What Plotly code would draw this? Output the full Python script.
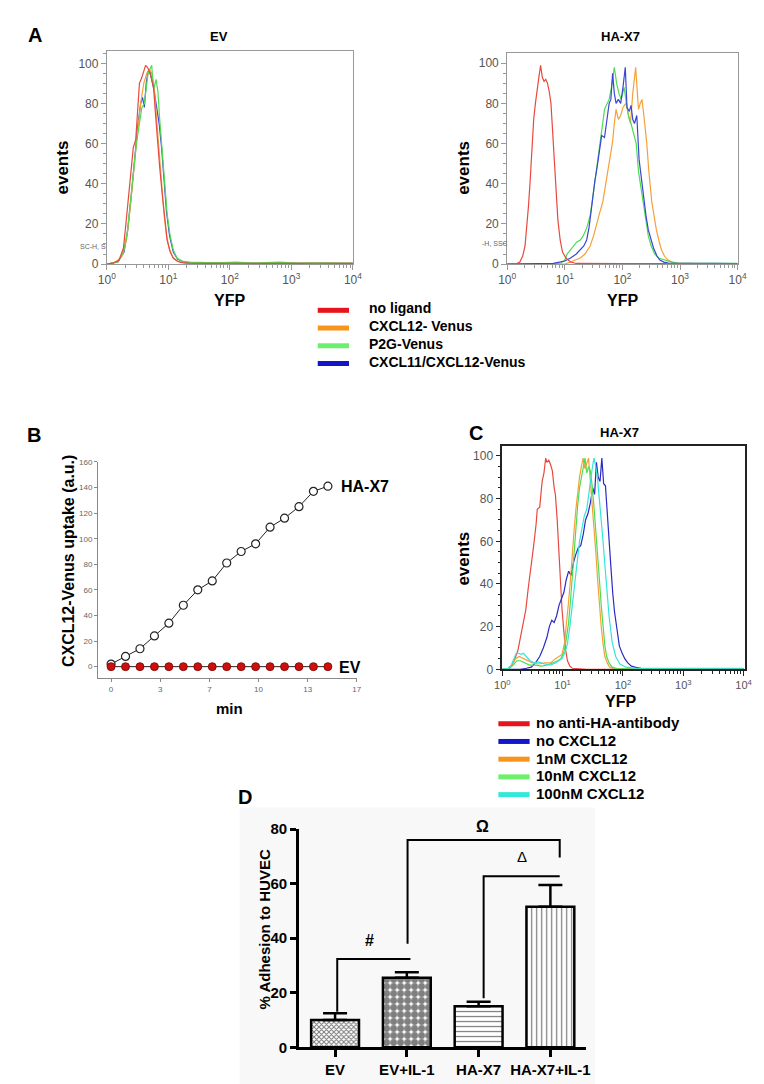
import math
import plotly.graph_objects as go

W, H = 764, 1084
FONT = "Liberation Sans, Arial, sans-serif"

# ---------------- DATA ----------------
# Panel A (EV) - x in log10(YFP), y = events (% of max)
AL_red_x = [0.00, 0.10, 0.20, 0.27, 0.31, 0.36, 0.39, 0.43, 0.47, 0.50, 0.53, 0.57, 0.60, 0.63, 0.66, 0.69, 0.72, 0.76, 0.79, 0.82, 0.86, 0.90, 0.94, 0.98, 1.03, 1.08, 1.14, 1.20, 1.30, 1.45, 1.6, 1.8, 2.0, 2.3, 2.6, 3.0, 3.4, 4.0]
AL_red_y = [0, 0.5, 2, 8, 20, 35, 45, 58, 62, 78, 90, 93, 96, 99, 98, 96, 93, 88, 75, 62, 48, 35, 22, 12, 6, 3, 1.5, 0.8, 0.4, 0.3, 0.5, 0.3, 0.4, 0.3, 0.5, 0.3, 0.4, 0.3]
AL_orange_x = [0.0, 0.15, 0.25, 0.32, 0.38, 0.44, 0.50, 0.55, 0.60, 0.65, 0.69, 0.73, 0.77, 0.81, 0.85, 0.89, 0.93, 0.97, 1.02, 1.08, 1.15, 1.25, 1.4, 1.6, 1.9, 2.2, 2.5, 2.9, 3.3, 3.7, 4.0]
AL_orange_y = [0, 1, 4, 12, 28, 48, 66, 80, 90, 95, 97, 95, 88, 72, 55, 40, 25, 14, 7, 3, 1.5, 0.6, 0.4, 0.3, 0.5, 0.3, 0.4, 0.3, 0.4, 0.3, 0.4]
AL_green_x = [0.0, 0.18, 0.27, 0.33, 0.38, 0.43, 0.48, 0.53, 0.57, 0.61, 0.64, 0.67, 0.70, 0.73, 0.75, 0.77, 0.80, 0.83, 0.86, 0.90, 0.94, 0.98, 1.03, 1.08, 1.14, 1.22, 1.35, 1.5, 1.8, 2.1, 2.4, 2.8, 3.1, 3.5, 4.0]
AL_green_y = [0, 1, 6, 15, 30, 46, 60, 70, 78, 80, 88, 95, 97, 99, 90, 88, 92, 86, 72, 55, 40, 25, 14, 7, 3, 1.5, 1, 0.8, 0.6, 1, 0.5, 1, 0.5, 0.6, 0.4]
AL_blue_x = [0.0, 0.18, 0.28, 0.34, 0.40, 0.45, 0.50, 0.55, 0.58, 0.61, 0.64, 0.67, 0.70, 0.73, 0.77, 0.81, 0.85, 0.89, 0.93, 0.97, 1.02, 1.08, 1.15, 1.25, 1.4, 1.6, 2.0, 2.5, 3.0, 3.5, 4.0]
AL_blue_y = [0, 1, 6, 17, 35, 52, 68, 80, 83, 78, 90, 96, 96, 92, 86, 78, 70, 58, 42, 26, 14, 6, 2.5, 1, 0.5, 0.3, 0.3, 0.3, 0.3, 0.3, 0.3]

# Panel A (HA-X7)
AR_red_x = [0.0, 0.15, 0.22, 0.27, 0.31, 0.34, 0.37, 0.40, 0.43, 0.46, 0.49, 0.52, 0.55, 0.58, 0.61, 0.64, 0.67, 0.70, 0.73, 0.76, 0.79, 0.82, 0.85, 0.88, 0.92, 0.96, 1.02, 1.10, 1.2, 1.4, 2.0, 2.6, 3.2, 4.0]
AR_red_y = [0, 0, 1, 4, 9, 18, 29, 42, 58, 72, 80, 88, 93, 99, 93, 91, 92, 90, 86, 80, 66, 50, 35, 22, 12, 6, 3, 1, 0.3, 0.2, 0.2, 0.2, 0.2, 0.2]
AR_blue_x = [0.0, 0.5, 0.8, 1.0, 1.1, 1.2, 1.27, 1.33, 1.38, 1.42, 1.46, 1.49, 1.52, 1.56, 1.60, 1.64, 1.69, 1.73, 1.77, 1.80, 1.83, 1.86, 1.89, 1.93, 1.97, 2.01, 2.05, 2.08, 2.12, 2.15, 2.18, 2.21, 2.25, 2.29, 2.33, 2.37, 2.41, 2.45, 2.50, 2.54, 2.60, 2.65, 2.72, 2.80, 2.9, 3.0, 3.3, 3.6, 4.0]
AR_blue_y = [0, 0, 0.3, 1.5, 3, 5, 7, 9, 12, 18, 27, 35, 41, 48, 55, 64, 63, 72, 80, 82, 95, 85, 80, 82, 80, 88, 98, 78, 76, 79, 72, 70, 74, 52, 42, 31, 24, 17, 12, 8, 4, 2, 1, 0.5, 0.3, 0.3, 0.6, 0.3, 0.2]
AR_green_x = [0.0, 0.8, 0.93, 1.0, 1.04, 1.1, 1.16, 1.21, 1.27, 1.32, 1.38, 1.44, 1.48, 1.52, 1.56, 1.60, 1.64, 1.69, 1.72, 1.77, 1.81, 1.86, 1.90, 1.94, 1.98, 2.03, 2.07, 2.11, 2.15, 2.20, 2.24, 2.28, 2.32, 2.37, 2.41, 2.45, 2.50, 2.56, 2.63, 2.73, 2.85, 2.96, 3.1, 3.4, 3.7, 4.0]
AR_green_y = [0, 0, 0.5, 2, 5, 7, 9, 11, 12, 14, 18, 24, 32, 41, 48, 57, 67, 77, 79, 82, 88, 98, 90, 85, 82, 88, 80, 73, 70, 65, 60, 46, 38, 28, 20, 14, 9, 5, 3, 2, 1, 0.3, 0.3, 0.3, 0.3, 0.3]
AR_orange_x = [0.0, 1.0, 1.1, 1.2, 1.27, 1.35, 1.44, 1.50, 1.55, 1.60, 1.66, 1.70, 1.75, 1.79, 1.83, 1.86, 1.89, 1.93, 1.97, 2.01, 2.06, 2.10, 2.14, 2.18, 2.23, 2.26, 2.28, 2.31, 2.34, 2.38, 2.42, 2.46, 2.51, 2.55, 2.59, 2.64, 2.68, 2.73, 2.79, 2.87, 2.96, 3.2, 3.6, 4.0]
AR_orange_y = [0, 0, 1, 2, 3, 5, 9, 14, 20, 25, 31, 38, 46, 53, 61, 70, 77, 72, 74, 78, 80, 75, 70, 85, 98, 85, 77, 80, 82, 72, 61, 46, 31, 24, 17, 11, 7, 4, 2, 1, 0.5, 0.3, 0.3, 0.2]

# Panel B - uptake over time
B_minutes = [0, 1, 2, 3, 4, 5, 6, 7, 8, 9, 10, 11, 12, 13, 14, 15]
B_ha_x7 = [2, 8, 14, 24, 34, 48, 60, 67, 81, 90, 96, 109, 116, 125, 137, 141]
B_ev = [0, 0, 0, 0, 0, 0, 0, 0, 0, 0, 0, 0, 0, 0, 0, 0]
B_xtick_vals = [0, 3.4, 6.8, 10.2, 13.6, 17]
B_xtick_text = ["0", "3", "7", "10", "13", "17"]

# Panel C (HA-X7, CXCL12 dose)
C_red_x = [0.0, 0.09, 0.16, 0.21, 0.26, 0.31, 0.35, 0.39, 0.43, 0.48, 0.52, 0.56, 0.58, 0.62, 0.66, 0.69, 0.72, 0.74, 0.77, 0.80, 0.83, 0.86, 0.88, 0.91, 0.94, 0.96, 0.99, 1.02, 1.05, 1.08, 1.12, 1.16, 1.25, 1.4, 4.0]
C_red_y = [0, 0, 2, 5, 9, 16, 22, 28, 38, 48, 58, 68, 75, 76, 88, 92, 99, 97, 98, 96, 93, 85, 82, 70, 55, 40, 28, 18, 9, 4, 1.5, 0.5, 0.2, 0, 0]
C_blue_x = [0.0, 0.3, 0.4, 0.48, 0.55, 0.62, 0.68, 0.74, 0.78, 0.82, 0.86, 0.90, 0.94, 0.98, 1.02, 1.06, 1.10, 1.14, 1.18, 1.22, 1.26, 1.30, 1.34, 1.38, 1.42, 1.46, 1.50, 1.53, 1.56, 1.59, 1.62, 1.65, 1.68, 1.71, 1.74, 1.77, 1.80, 1.83, 1.86, 1.90, 1.94, 1.98, 2.03, 2.08, 2.14, 2.2, 2.3, 2.5, 3.0, 4.0]
C_blue_y = [0, 0, 0.5, 1, 3, 6, 10, 15, 20, 23, 22, 25, 30, 33, 36, 42, 46, 44, 50, 54, 57, 58, 63, 70, 73, 78, 85, 82, 97, 90, 88, 99, 87, 86, 72, 60, 48, 36, 27, 19, 11, 8, 5, 3, 1.5, 1, 0.5, 0.3, 0.2, 0.2]
C_orange_x = [0.0, 0.1, 0.16, 0.22, 0.28, 0.35, 0.42, 0.50, 0.60, 0.70, 0.80, 0.88, 0.94, 0.99, 1.03, 1.07, 1.10, 1.13, 1.16, 1.19, 1.22, 1.25, 1.28, 1.31, 1.34, 1.37, 1.40, 1.43, 1.46, 1.49, 1.52, 1.55, 1.58, 1.61, 1.64, 1.67, 1.70, 1.74, 1.78, 1.84, 1.95, 2.2, 4.0]
C_orange_y = [0, 0.5, 2, 5, 6, 5, 4, 3, 2.5, 3, 3, 5, 6, 7, 12, 22, 32, 42, 55, 65, 75, 83, 90, 95, 99, 94, 97, 99, 88, 78, 68, 55, 42, 30, 20, 12, 6, 3, 1, 0.3, 0.2, 0.1, 0]
C_green_x = [0.0, 0.12, 0.18, 0.24, 0.30, 0.37, 0.45, 0.55, 0.65, 0.75, 0.85, 0.92, 0.97, 1.02, 1.06, 1.10, 1.13, 1.16, 1.19, 1.22, 1.25, 1.28, 1.31, 1.34, 1.37, 1.40, 1.43, 1.46, 1.49, 1.52, 1.55, 1.58, 1.61, 1.64, 1.67, 1.70, 1.73, 1.77, 1.82, 1.90, 2.1, 4.0]
C_green_y = [0, 0.5, 2, 4, 4, 3, 2, 2, 1.5, 2, 3, 4, 5, 8, 14, 22, 32, 43, 56, 68, 77, 85, 90, 96, 99, 92, 95, 93, 86, 76, 66, 54, 42, 30, 20, 11, 6, 3, 1, 0.3, 0.2, 0.1]
C_cyan_x = [0.0, 0.10, 0.15, 0.19, 0.23, 0.27, 0.31, 0.35, 0.40, 0.46, 0.53, 0.60, 0.70, 0.80, 0.88, 0.94, 0.99, 1.04, 1.08, 1.12, 1.16, 1.20, 1.24, 1.28, 1.32, 1.36, 1.40, 1.43, 1.46, 1.49, 1.52, 1.55, 1.58, 1.61, 1.64, 1.67, 1.70, 1.73, 1.77, 1.82, 1.88, 1.95, 2.05, 2.2, 2.6, 3.2, 4.0]
C_cyan_y = [0, 0.5, 2, 5, 7.5, 7.5, 7, 7.5, 6, 4, 3, 3.5, 2.5, 2, 3, 4, 5, 8, 12, 20, 30, 40, 52, 60, 66, 72, 75, 82, 89, 94, 99, 95, 89, 80, 71, 60, 49, 38, 25, 13, 6, 2.5, 1, 0.5, 0.5, 0.5, 0.5]

# Panel D - adhesion
D_groups = ["EV", "EV+IL-1", "HA-X7", "HA-X7+IL-1"]
D_values = [10, 25.5, 15, 51.5]
D_errors = [2.5, 2, 1.7, 8]

LEG_A = ["no ligand", "CXCL12- Venus", "P2G-Venus", "CXCL11/CXCL12-Venus"]
LEG_C = ["no anti-HA-antibody", "no CXCL12", "1nM CXCL12", "10nM CXCL12", "100nM CXCL12"]

# ---------------- HELPERS ----------------
def px(x):
    return x / W

def py(y):
    return 1 - y / H

C_RED, C_ORANGE, C_GREEN, C_BLUE, C_CYAN = "#e8493f", "#f5a03a", "#4fdc4f", "#3a46d6", "#36e4dc"
L_RED, L_ORANGE, L_GREEN, L_BLUE, L_CYAN = "#e8141c", "#f7941d", "#6cf06c", "#1414c8", "#33e8d8"

fig = go.Figure()

def line(xs, ys, color, ax, width=1.2):
    fig.add_trace(go.Scatter(x=xs, y=ys, mode="lines", line=dict(color=color, width=width),
                             xaxis="x" + ax, yaxis="y" + ax, showlegend=False, hoverinfo="skip"))

# A left
line(AL_blue_x, AL_blue_y, C_BLUE, "")
line(AL_orange_x, AL_orange_y, C_ORANGE, "")
line(AL_green_x, AL_green_y, C_GREEN, "")
line(AL_red_x, AL_red_y, C_RED, "")
# A right
line(AR_orange_x, AR_orange_y, C_ORANGE, "2")
line(AR_green_x, AR_green_y, C_GREEN, "2")
line(AR_blue_x, AR_blue_y, C_BLUE, "2")
line(AR_red_x, AR_red_y, C_RED, "2")
# B
fig.add_trace(go.Scatter(x=B_minutes, y=B_ha_x7, mode="lines+markers", xaxis="x3", yaxis="y3",
                         line=dict(color="#222", width=1),
                         marker=dict(symbol="circle", size=8, color="white", line=dict(color="#222", width=1.2)),
                         showlegend=False, hoverinfo="skip", cliponaxis=False))
fig.add_trace(go.Scatter(x=B_minutes, y=B_ev, mode="lines+markers", xaxis="x3", yaxis="y3",
                         line=dict(color="#222", width=1),
                         marker=dict(symbol="circle", size=8, color="#cc1010", line=dict(color="#7a0000", width=0.8)),
                         showlegend=False, hoverinfo="skip", cliponaxis=False))
# C
line(C_red_x, C_red_y, C_RED, "4")
line(C_blue_x, C_blue_y, "#2a2ac4", "4")
line(C_orange_x, C_orange_y, C_ORANGE, "4")
line(C_green_x, C_green_y, C_GREEN, "4")
line(C_cyan_x, C_cyan_y, C_CYAN, "4")

# D
fig.add_trace(go.Bar(x=[0, 1, 2, 3], y=D_values, width=0.667, xaxis="x5", yaxis="y5",
                     marker=dict(color="white", line=dict(color="black", width=2.5),
                                 pattern=dict(shape=["x", ".", "-", "|"], size=[3.5, 7, 5, 5],
                                              solidity=[0.5, 0.75, 0.25, 0.25],
                                              fgcolor="black", bgcolor="white", fillmode="overlay")),
                     error_y=dict(type="data", array=D_errors, arrayminus=[0, 0, 0, 0], symmetric=False,
                                  color="black", thickness=2.5, width=12),
                     showlegend=False, hoverinfo="skip"))

# ---------------- AXES ----------------
minor_x = [n + math.log10(k) for n in range(4) for k in range(2, 10)]
sup = ["10<sup>0</sup>", "10<sup>1</sup>", "10<sup>2</sup>", "10<sup>3</sup>", "10<sup>4</sup>"]

def flow_x(dom, anchor, lc, lw, rng, fs=12):
    return dict(domain=dom, anchor=anchor, range=rng, tickvals=[0, 1, 2, 3, 4], ticktext=sup,
                showline=True, mirror=True, linecolor=lc, linewidth=lw, ticks="outside", ticklen=5,
                tickcolor=lc, tickfont=dict(family=FONT, size=fs, color="#555"), showgrid=False,
                zeroline=False, minor=dict(tickvals=minor_x, ticks="outside", ticklen=3, tickcolor=lc))

def flow_y(dom, anchor, lc, lw, top):
    return dict(domain=dom, anchor=anchor, range=[0, top], tickvals=[0, 20, 40, 60, 80, 100],
                showline=True, mirror=True, linecolor=lc, linewidth=lw, ticks="outside", ticklen=5,
                tickcolor=lc, tickfont=dict(family=FONT, size=12, color="#555"), showgrid=False,
                zeroline=False, minor=dict(dtick=5, ticks="outside", ticklen=3, tickcolor=lc))

fig.update_layout(
    xaxis=flow_x([px(92), px(344)], "y", "#999", 1, [0, 4]),
    yaxis=flow_y([py(251), py(35)], "x", "#999", 1, 105.9),
    xaxis2=flow_x([px(502), px(738)], "y2", "#999", 1, [0, 4]),
    yaxis2=flow_y([py(251), py(37)], "x2", "#999", 1, 104.9),
    xaxis3=dict(domain=[px(83), px(348)], anchor="y3", range=[-0.9, 17], tickvals=B_xtick_vals,
                ticktext=B_xtick_text, showline=True, linecolor="#888", linewidth=1, ticks="outside",
                ticklen=3, tickcolor="#888", tickfont=dict(family=FONT, size=8, color="#666"),
                showgrid=False, zeroline=False),
    yaxis3=dict(domain=[py(671.7), py(452)], anchor="x3", range=[-9, 160], tickvals=[0, 20, 40, 60, 80, 100, 120, 140, 160],
                showline=True, linecolor="#888", linewidth=1, ticks="outside", ticklen=3, tickcolor="#888",
                tickfont=dict(family=FONT, size=8, color="#666"), showgrid=False, zeroline=False),
    xaxis4=flow_x([px(497), px(746)], "y4", "#222", 1.5, [0, 4.03], fs=11),
    yaxis4=flow_y([py(662.7), py(436)], "x4", "#222", 1.5, 104.6),
    xaxis5=dict(domain=[px(289), px(583)], anchor="y5", range=[-0.5, 3.5], tickvals=[0, 1, 2, 3],
                ticktext=D_groups, showline=True, linecolor="black", linewidth=3, ticks="outside",
                ticklen=7, tickwidth=3, tickcolor="black",
                tickfont=dict(family=FONT, size=15, color="black", weight="bold"),
                showgrid=False, zeroline=False),
    yaxis5=dict(domain=[py(1046.7), py(825)], anchor="x5", range=[0, 80], tickvals=[0, 20, 40, 60, 80],
                showline=True, linecolor="black", linewidth=3, ticks="outside", ticklen=6, tickwidth=3,
                tickcolor="black", tickfont=dict(family=FONT, size=15, color="black", weight="bold"),
                showgrid=False, zeroline=False),
    width=W, height=H, margin=dict(l=0, r=0, t=0, b=0),
    paper_bgcolor="white", plot_bgcolor="rgba(0,0,0,0)",
    showlegend=False,
)

# ---------------- ANNOTATIONS ----------------
ann = []

def txt(x, y, s, size=14, bold=True, color="black", angle=0, xanchor="center", family=FONT):
    ann.append(dict(x=px(x), y=py(y), xref="paper", yref="paper", text=s, showarrow=False,
                    textangle=angle, xanchor=xanchor, yanchor="middle",
                    font=dict(family=family, size=size, color=color, weight="bold" if bold else "normal")))

# Panel labels
txt(18, 18, "A", 20)
txt(17, 425, "B", 20)
txt(470, 423, "C", 20)
txt(233, 792, "D", 20)

# A
txt(207, 20, "EV", 13)
txt(618, 20, "HA-X7", 13)
txt(47, 153, "events", 17, angle=-90)
txt(457, 153, "events", 17, angle=-90)
txt(218, 288, "YFP", 16)
txt(620, 288, "YFP", 16)
txt(78, 233, "SC-H, S", 7, bold=False, color="#666")
txt(490, 230, "-H, SSC", 7, bold=False, color="#666")

shapes = []
for i, (lab, col) in enumerate(zip(LEG_A, [L_RED, L_ORANGE, L_GREEN, L_BLUE])):
    yy = 296 + i * 18
    shapes.append(dict(type="line", xref="paper", yref="paper", x0=px(308), x1=px(340), y0=py(yy + 2), y1=py(yy + 2),
                       line=dict(color=col, width=5)))
    txt(358, yy, lab, 14, xanchor="left")

# B
txt(53, 552, "CXCL12-Venus uptake (a.u.)", 16, angle=-90)
txt(218, 703, "min", 15)
txt(330, 477, "HA-X7", 16, xanchor="left")
txt(328, 661, "EV", 16, xanchor="left")

# C
txt(617, 422, "HA-X7", 13)
txt(457, 550, "events", 17, angle=-90)
txt(618, 695, "YFP", 16)
for i, (lab, col) in enumerate(zip(LEG_C, [L_RED, L_BLUE, L_ORANGE, L_GREEN, L_CYAN])):
    yy = 717 + i * 18
    shapes.append(dict(type="line", xref="paper", yref="paper", x0=px(493), x1=px(525), y0=py(yy + 1), y1=py(yy + 1),
                       line=dict(color=col, width=5)))
    txt(529, yy, lab, 15, xanchor="left")

# D
txt(253, 927, "% Adhesion to HUVEC", 15, angle=-90)
txt(361, 938, "#", 16)
txt(517, 853, "Δ", 15, bold=False)
txt(477, 822, "Ω", 16)

shapes.insert(0, dict(type="rect", xref="paper", yref="paper", x0=px(228), x1=px(592), y0=py(1084), y1=py(803),
                      fillcolor="#f8f8f8", line=dict(width=0), layer="below"))

br = dict(color="black", width=2)
# '#' bracket
shapes.append(dict(type="path", xref="x5", yref="y5", path="M 0.03,13 L 0.03,32.4 L 1.05,32.4", line=br))
# 'Omega' bracket
shapes.append(dict(type="path", xref="x5", yref="y5", path="M 1.01,38 L 1.01,76 L 3.13,76 L 3.13,69.6", line=br))
# 'Delta' bracket
shapes.append(dict(type="path", xref="x5", yref="y5", path="M 2.07,18 L 2.07,62.7 L 3.13,62.7", line=br))

fig.update_layout(annotations=ann, shapes=shapes)

fig.write_html("out.html")
